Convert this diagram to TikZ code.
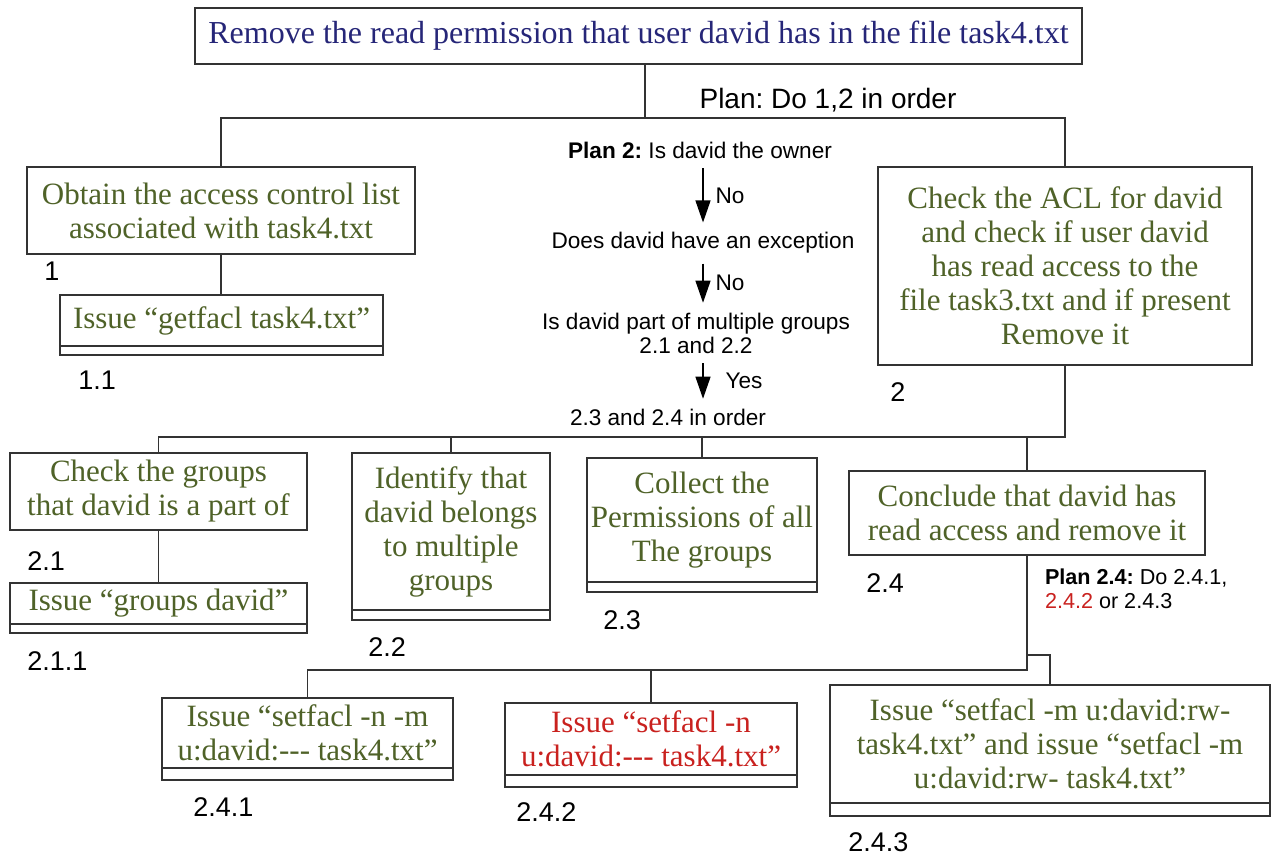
\documentclass[tikz,border=0pt]{standalone}
\usepackage{fontspec}
\setmainfont{Liberation Serif}
\setsansfont{Liberation Sans}
\usetikzlibrary{arrows.meta,positioning}
\definecolor{taskgreen}{RGB}{79,98,40}
\definecolor{tasknavy}{RGB}{38,38,120}
\definecolor{taskred}{RGB}{201,33,30}
\tikzset{
  task/.style={draw=black!80, line width=0.6pt, align=center, inner sep=2pt, outer sep=0pt, text=taskgreen, font=\fontsize{15.5}{17}\selectfont},
  strip/.style={draw=black!80, line width=0.6pt, inner sep=0pt, outer sep=0pt},
  num/.style={font=\sffamily\fontsize{13.5}{16}\selectfont, inner sep=0pt, anchor=north west},
  plan/.style={font=\sffamily\fontsize{11.3}{12}\selectfont, align=center, inner sep=1pt, outer sep=4pt},
  answer/.style={font=\sffamily\fontsize{11.3}{12}\selectfont, inner sep=1pt},
  link/.style={draw=black!80, line width=0.6pt},
  arrow/.style={-{Triangle[length=11pt,width=7.5pt]}, line width=0.6pt},
}
\frenchspacing

\begin{document}
\begin{tikzpicture}[x=0.5pt, y=-0.5pt]
  \useasboundingbox (0,0) rectangle (1273,856);
  \fill[white] (0,0) rectangle (1273,856);

  % goal
  \node[task, text=tasknavy, font=\fontsize{16}{19}\selectfont, minimum width=443.5pt, minimum height=28pt] (goal) at (638.5,36) {Remove the read permission that user david has in the file task4.txt};
  \node[font=\sffamily\fontsize{14}{16}\selectfont, inner sep=0pt] (plan0) at (828,100) {Plan: Do 1,2 in order};

  % step 1
  \node[task, minimum width=194pt, minimum height=43.5pt] (b1) at (221,210.5) {Obtain the access control list\\associated with task4.txt};
  \node[num, below right=4pt and 8.5pt of b1.south west] (n1) {1};
  \node[task, minimum width=161.5pt, minimum height=25.5pt] (b11) at (221.5,320.5) {Issue “getfacl task4.txt”};
  \node[strip, minimum width=161.5pt, minimum height=4.5pt, below=0pt of b11] (b11s) {};
  \node[num, below right=8pt and 9pt of b11s.south west] (n11) {1.1};

  % step 2
  \node[task, minimum width=187pt, minimum height=99pt] (b2) at (1065,266) {Check the ACL for david\\and check if user david\\has read access to the\\file task3.txt and if present\\Remove it};
  \node[num, below right=8.5pt and 6pt of b2.south west] (n2) {2};

  % plan 2
  \node[plan] (q0) at (700,150) {\textbf{Plan 2:} Is david the owner};
  \node[plan] (q1) at (703,243) {Does david have an exception};
  \node[plan] (q2) at (696,333) {Is david part of multiple groups\\2.1 and 2.2};
  \node[plan] (q3) at (668,417) {2.3 and 2.4 in order};
  \draw[arrow] (q0.south -| q1) -- (q1.north) node[answer, midway, right=5pt] {No};
  \draw[arrow] (q1.south) -- (q2.north -| q1) node[answer, midway, right=5pt] {No};
  \draw[arrow] (q2.south -| q1) -- (q3.north -| q1) node[answer, midway, right=10pt] {Yes};

  % 2.1 - 2.4
  \node[task, minimum width=148.5pt, minimum height=38.5pt] (b21) at (158.5,491.5) {Check the groups\\that david is a part of};
  \node[num, below right=10.5pt and 8.5pt of b21.south west] (n21) {2.1};
  \node[task, minimum width=148.5pt, minimum height=20.5pt] (b211) at (158.5,603.5) {Issue “groups david”};
  \node[strip, minimum width=148.5pt, minimum height=4.5pt, below=0pt of b211] (b211s) {};
  \node[num, below right=9pt and 8.5pt of b211s.south west] (n211) {2.1.1};

  \node[task, minimum width=99pt, minimum height=78.5pt] (b22) at (451,531.5) {Identify that\\david belongs\\to multiple\\groups};
  \node[strip, minimum width=99pt, minimum height=5pt, below=0pt of b22] (b22s) {};
  \node[num, below right=8.5pt and 8pt of b22s.south west] (n22) {2.2};

  \node[task, minimum width=115pt, minimum height=62pt] (b23) at (702,520) {Collect the\\Permissions of all\\The groups};
  \node[strip, minimum width=115pt, minimum height=5pt, below=0pt of b23] (b23s) {};
  \node[num, below right=9pt and 8pt of b23s.south west] (n23) {2.3};

  \node[task, minimum width=178pt, minimum height=42pt] (b24) at (1027,513) {Conclude that david has\\read access and remove it};
  \node[num, below right=9pt and 8.5pt of b24.south west] (n24) {2.4};
  \node[plan, outer sep=0pt, anchor=north west, align=left, font=\sffamily\fontsize{10.8}{12}\selectfont] (p24) at (1043,567) {\textbf{Plan 2.4:} Do 2.4.1,\\\textcolor{taskred}{2.4.2} or 2.4.3};

  % 2.4.1 - 2.4.3
  \node[task, minimum width=145.5pt, minimum height=35pt] (b241) at (307.5,733) {Issue “setfacl -n -m\\u:david:-{}-{}- task4.txt”};
  \node[strip, minimum width=145.5pt, minimum height=6pt, below=0pt of b241] (b241s) {};
  \node[num, below right=8.5pt and 15.5pt of b241s.south west] (n241) {2.4.1};

  \node[task, text=taskred, minimum width=146pt, minimum height=36pt] (b242) at (651,739) {Issue “setfacl -n\\u:david:-{}-{}- task4.txt”};
  \node[strip, minimum width=146pt, minimum height=6pt, below=0pt of b242] (b242s) {};
  \node[num, below right=7.5pt and 5.5pt of b242s.south west] (n242) {2.4.2};

  \node[task, minimum width=220pt, minimum height=59pt] (b243) at (1050,744) {Issue “setfacl -m u:david:rw-\\task4.txt” and issue “setfacl -m\\u:david:rw- task4.txt”};
  \node[strip, minimum width=220pt, minimum height=6.5pt, below=0pt of b243] (b243s) {};
  \node[num, below right=8pt and 9pt of b243s.south west] (n243) {2.4.3};

  % links
  \coordinate (j1) at (645,118);
  \coordinate (j2) at (1064,437);
  \coordinate (j3) at (1027,670);
  \coordinate (j4) at (1027,655);
  \draw[link] (goal.south -| j1) -- (j1);
  \draw[link] (j1) -| (b1.north);
  \draw[link] (j1) -| (b2.north);
  \draw[link] (b1.south) -- (b1.south |- b11.north);
  \draw[link] (b2.south) |- (b21.north |- j2) -- (b21.north);
  \draw[link] (b22.north) -- (b22.north |- j2);
  \draw[link] (b23.north) -- (b23.north |- j2);
  \draw[link] (b24.north) -- (b24.north |- j2);
  \draw[link] (b21.south) -- (b21.south |- b211.north);
  \draw[link] (b24.south) |- (b241.north |- j3) -- (b241.north);
  \draw[link] (b242.north) -- (b242.north |- j3);
  \draw[link] (b243.north) |- (j4);

\end{tikzpicture}
\end{document}
